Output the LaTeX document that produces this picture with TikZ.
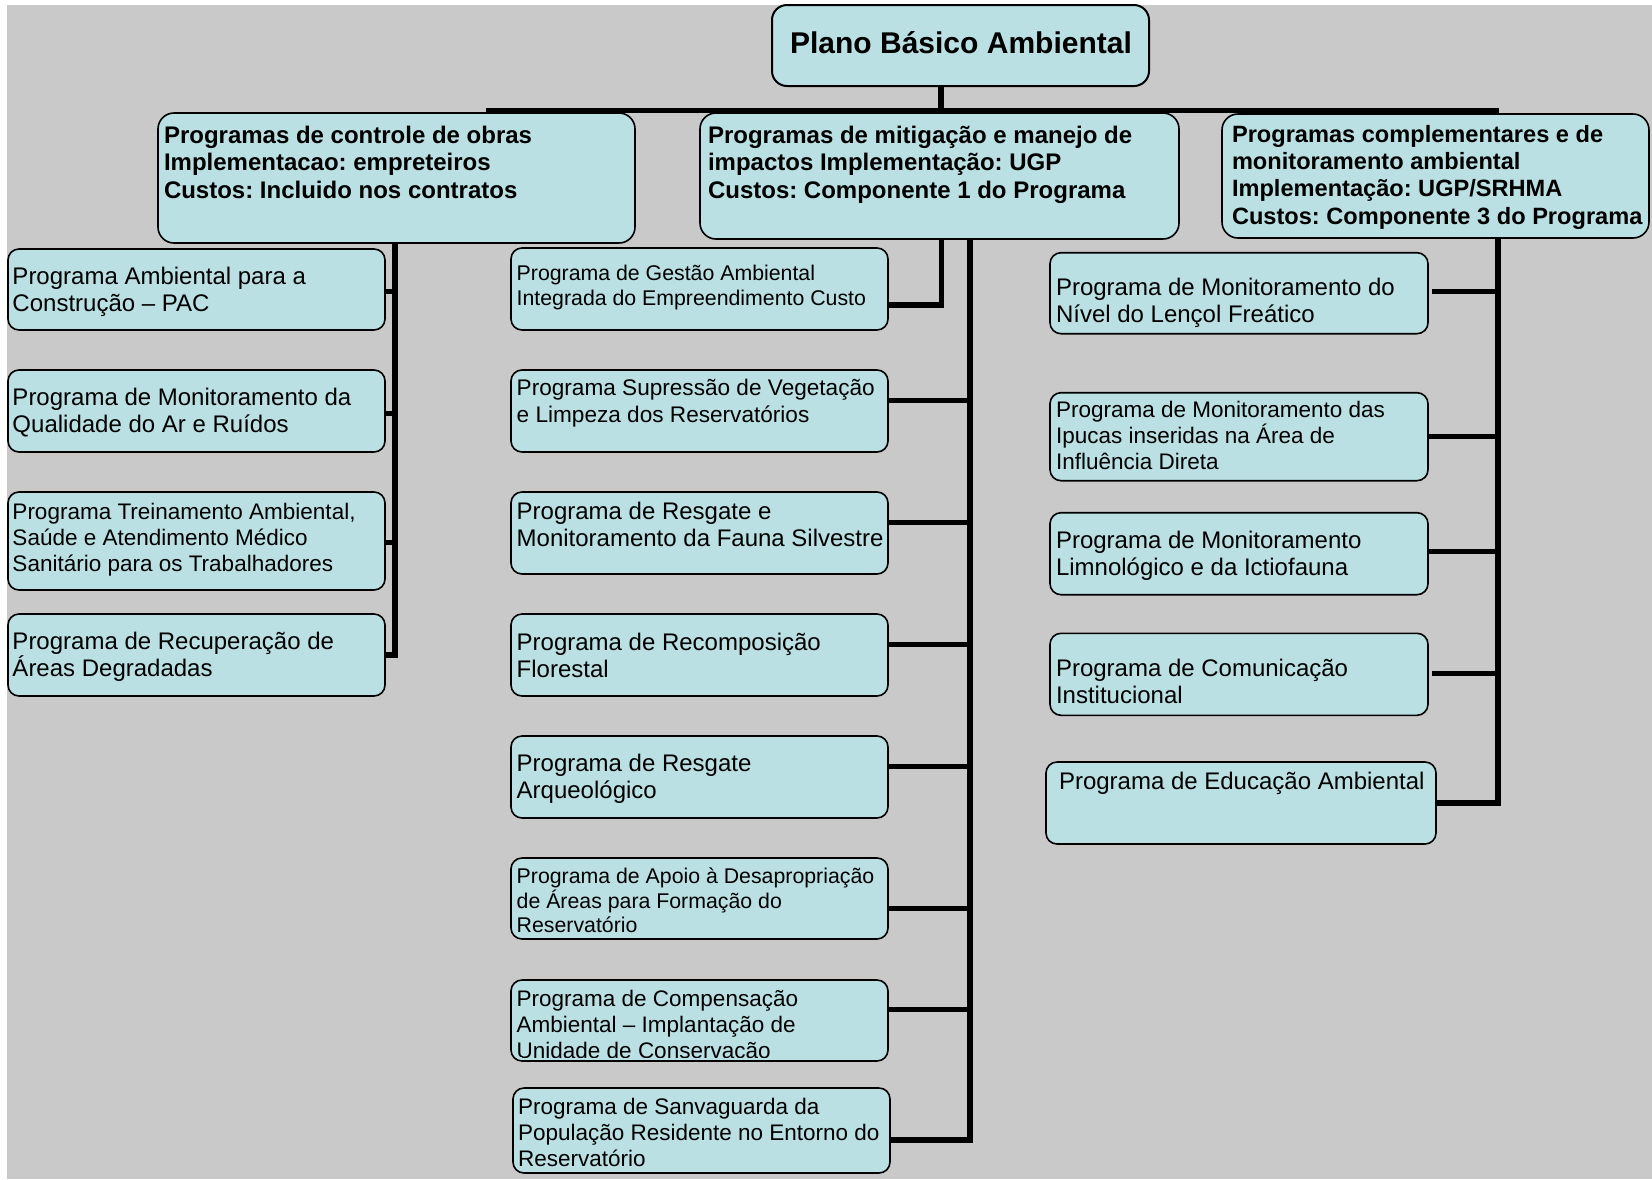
\documentclass[tikz,border=0pt]{standalone}
\usepackage{fontspec}
\setmainfont{Liberation Sans}
\usetikzlibrary{calc}
\definecolor{bggray}{RGB}{201,201,201}
\definecolor{boxfill}{RGB}{186,224,227}
\frenchspacing
\begin{document}
\frenchspacing
\begin{tikzpicture}[x=1pt,y=-1pt,
  box/.style={draw=black, line width=1.6pt, fill=boxfill, rounded corners=11pt, inner sep=0pt, outer sep=0pt, anchor=north west},
  headbox/.style={box, rounded corners=16pt},
  titlebox/.style={box, line width=2pt, rounded corners=15pt},
  txt/.style={anchor=north west, inner sep=0pt, outer sep=0pt, align=left},
  fbig/.style={font=\frenchspacing\bfseries\fontsize{24}{27.6}\selectfont},
  fbigc/.style={font=\frenchspacing\bfseries\fontsize{23.6}{27.4}\selectfont},
  fn/.style={font=\frenchspacing\fontsize{24}{27.2}\selectfont},
  fm/.style={font=\frenchspacing\fontsize{22.5}{26}\selectfont},
  fs/.style={font=\frenchspacing\fontsize{21.3}{24.6}\selectfont},
  conn/.style={line width=5.5pt, line join=miter},
  stub/.style={line width=5pt}
]
\useasboundingbox (0,0) rectangle (1652,1179);
\fill[white] (0,0) rectangle (1652,1179);
\fill[bggray] (7,5) rectangle (1652,1179);

% title
\node[titlebox, minimum width=377pt, minimum height=81pt] (title) at (772,5) {};
\node[anchor=base, inner sep=0pt, font=\bfseries\fontsize{30}{34}\selectfont] (titlet) at (961,53) {Plano Básico Ambiental};

% level 1
\node[headbox, minimum width=477pt, minimum height=130pt] (l1a) at (158,113) {};
\node[txt, fbig] (l1at) at (164,119) {\rule{0pt}{1em}Programas de controle de obras\\Implementacao: empreteiros\\Custos: Incluido nos contratos};
\node[headbox, minimum width=479pt, minimum height=126pt] (l1b) at (700,113) {};
\node[txt, fbig] (l1bt) at (708,119) {\rule{0pt}{1em}Programas de mitigação e manejo de\\impactos Implementação: UGP\\Custos: Componente 1 do Programa};
\node[headbox, minimum width=427pt, minimum height=124pt] (l1c) at (1222,114) {};
\node[txt, fbigc] (l1ct) at (1232,118.4) {\rule{0pt}{1em}Programas complementares e de\\monitoramento ambiental\\Implementação: UGP/SRHMA\\Custos: Componente 3 do Programa};

% left column
\node[box, minimum width=377pt, minimum height=81pt] (b1) at (8,249) {};
\node[txt, fn] (b1t) at (12.5,260.3) {\rule{0pt}{1em}Programa Ambiental para a\\Construção – PAC};
\node[box, minimum width=377pt, minimum height=82pt] (b2) at (8,370) {};
\node[txt, fn] (b2t) at (12.5,381.7) {\rule{0pt}{1em}Programa de Monitoramento da\\Qualidade do Ar e Ruídos};
\node[box, minimum width=377pt, minimum height=98pt] (b3) at (8,492) {};
\node[txt, fm] (b3t) at (12.5,496.8) {\rule{0pt}{1em}Programa Treinamento Ambiental,\\Saúde e Atendimento Médico\\Sanitário para os Trabalhadores};
\node[box, minimum width=377pt, minimum height=82pt] (b4) at (8,614) {};
\node[txt, fn] (b4t) at (12.5,625) {\rule{0pt}{1em}Programa de Recuperação de\\Áreas Degradadas};

% middle column
\node[box, minimum width=377pt, minimum height=82pt] (m1) at (511,248) {};
\node[txt, fs] (m1t) at (516.7,259.2) {\rule{0pt}{1em}Programa de Gestão Ambiental\\Integrada do Empreendimento Custo};
\node[box, minimum width=377pt, minimum height=82pt] (m2) at (511,370) {};
\node[txt, font=\fontsize{22.6}{26.6}\selectfont] (m2t) at (516.7,373.1) {\rule{0pt}{1em}Programa Supressão de Vegetação\\e Limpeza dos Reservatórios};
\node[box, minimum width=377pt, minimum height=82pt] (m3) at (511,492) {};
\node[txt, fn] (m3t) at (516.7,495.3) {\rule{0pt}{1em}Programa de Resgate e\\Monitoramento da Fauna Silvestre};
\node[box, minimum width=377pt, minimum height=82pt] (m4) at (511,614) {};
\node[txt, fn] (m4t) at (516.7,626) {\rule{0pt}{1em}Programa de Recomposição\\Florestal};
\node[box, minimum width=377pt, minimum height=82pt] (m5) at (511,736) {};
\node[txt, fn] (m5t) at (516.7,747.7) {\rule{0pt}{1em}Programa de Resgate\\Arqueológico};
\node[box, minimum width=377pt, minimum height=81pt] (m6) at (511,858) {};
\node[txt, fs] (m6t) at (516.7,862.1) {\rule{0pt}{1em}Programa de Apoio à Desapropriação\\de Áreas para Formação do\\Reservatório};
\node[box, minimum width=377pt, minimum height=81pt] (m7) at (511,980) {};
\begin{scope}
\clip[rounded corners=10pt] ($(m7.north west)+(1,1)$) rectangle ($(m7.south east)+(-1,-4)$);
\node[txt, fm] (m7t) at (516.7,983.5) {\rule{0pt}{1em}Programa de Compensação\\Ambiental – Implantação de\\Unidade de Conservação};
\end{scope}
\node[box, minimum width=377pt, minimum height=85pt] (m8) at (513,1088) {};
\node[txt, fm] (m8t) at (518,1091.5) {\rule{0pt}{1em}Programa de Sanvaguarda da\\População Residente no Entorno do\\Reservatório};

% right column
\node[box, minimum width=378pt, minimum height=81pt] (r1) at (1050,252.7) {};
\node[txt, fn] (r1t) at (1056,271) {\rule{0pt}{1em}Programa de Monitoramento do\\Nível do Lençol Freático};
\node[box, minimum width=378pt, minimum height=88pt] (r2) at (1050,392.7) {};
\node[txt, fm] (r2t) at (1056,394.8) {\rule{0pt}{1em}Programa de Monitoramento das\\Ipucas inseridas na Área de\\Influência Direta};
\node[box, minimum width=378pt, minimum height=82pt] (r3) at (1050,512.7) {};
\node[txt, fn] (r3t) at (1056,524.3) {\rule{0pt}{1em}Programa de Monitoramento\\Limnológico e da Ictiofauna};
\node[box, minimum width=378pt, minimum height=82pt] (r4) at (1050,633.3) {};
\node[txt, fn] (r4t) at (1056,652.7) {\rule{0pt}{1em}Programa de Comunicação\\Institucional};
\node[box, minimum width=390pt, minimum height=82pt] (r5) at (1046,762) {};
\node[txt, fn] (r5t) at (1059,765.3) {\rule{0pt}{1em}Programa de Educação Ambiental};

% connector coordinates
\coordinate (tv) at (941,0);
\coordinate (lv) at (395,0);
\coordinate (mv) at (970,0);
\coordinate (m1v) at (941.5,0);
\coordinate (rv) at (1498,0);
\coordinate (barL) at (486,110.5);
\coordinate (barR) at (1499,110.5);

% top
\draw[conn] (tv |- title.south) -- (tv |- barL);
\draw[conn] (barL) -- (barR);

% left
\draw[conn] (lv |- l1a.south) -- (lv |- b4.east) -- (b4.east);
\draw[stub] ($(b1.east)+(0,2)$) coordinate (sb1) -- (sb1 -| lv);
\draw[stub] ($(b2.east)+(0,2)$) coordinate (sb2) -- (sb2 -| lv);
\draw[stub] ($(b3.east)+(0,1)$) coordinate (sb3) -- (sb3 -| lv);

% middle
\draw[conn] ($(m1.north east)+(0,57)$) coordinate (sm1) -- (sm1 -| m1v) -- (m1v |- l1b.south);
\draw[conn] ($(m8.north east)+(0,52)$) coordinate (sm8) -- (sm8 -| mv) -- (mv |- l1b.south);
\draw[stub] ($(m2.north east)+(0,30)$) coordinate (sm2) -- (sm2 -| mv);
\draw[stub] ($(m3.north east)+(0,30)$) coordinate (sm3) -- (sm3 -| mv);
\draw[stub] ($(m4.north east)+(0,30)$) coordinate (sm4) -- (sm4 -| mv);
\draw[stub] ($(m5.north east)+(0,30)$) coordinate (sm5) -- (sm5 -| mv);
\draw[stub] ($(m6.north east)+(0,50)$) coordinate (sm6) -- (sm6 -| mv);
\draw[stub] ($(m7.north east)+(0,29)$) coordinate (sm7) -- (sm7 -| mv);

% right
\draw[conn] ($(r5.north east)+(0,41)$) coordinate (sr5) -- (sr5 -| rv) -- (rv |- l1c.south);
\draw[stub] ($(r1.north east)+(4,39)$) coordinate (sr1) -- (sr1 -| rv);
\draw[stub] ($(r2.north east)+(0,44)$) coordinate (sr2) -- (sr2 -| rv);
\draw[stub] ($(r3.north east)+(0,39)$) coordinate (sr3) -- (sr3 -| rv);
\draw[stub] ($(r4.north east)+(4,40)$) coordinate (sr4) -- (sr4 -| rv);
\end{tikzpicture}
\end{document}
